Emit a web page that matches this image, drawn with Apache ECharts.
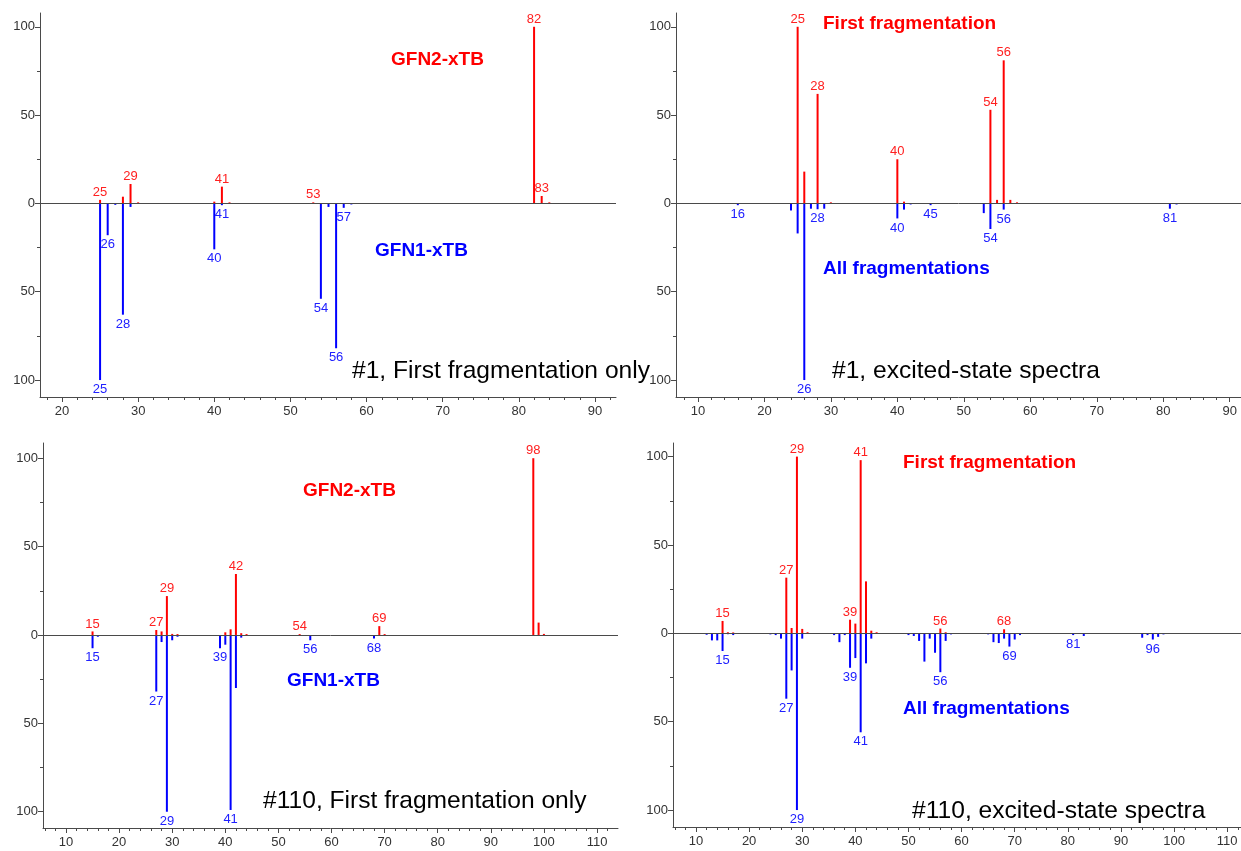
<!DOCTYPE html>
<html><head><meta charset="utf-8">
<script src="https://cdn.jsdelivr.net/npm/echarts@6/dist/echarts.min.js"></script>
<style>html,body{margin:0;padding:0;background:#fff}#c{width:1241px;height:851px}</style>
</head><body><div id="c"></div>
<script>
// ---------- DATA ----------
// Panel 1: #1, First fragmentation only (red GFN2-xTB up, blue GFN1-xTB down)
const p1RedMz   = [25, 28, 29, 30, 40, 41, 42, 53, 82, 83, 84];
const p1RedInt  = [2, 3.8, 11, 0.6, 1, 9.5, 0.6, 0.6, 100, 4.2, 0.6];
const p1RedLab  = [25, 29, 41, 53, 82, 83];
const p1BlueMz  = [25, 26, 27, 28, 29, 40, 41, 54, 55, 56, 57, 58];
const p1BlueInt = [100, 18, 0.8, 63, 2, 26, 1, 54, 2, 82, 2.5, 0.6];
const p1BlueLab = [25, 26, 28, 40, 41, 54, 56, 57];

// Panel 2: #1, excited-state spectra (red First fragmentation, blue All fragmentations)
const p2RedMz   = [25, 26, 28, 30, 40, 41, 54, 55, 56, 57, 58];
const p2RedInt  = [100, 18, 62, 0.6, 25, 1, 53, 2, 81, 2, 0.6];
const p2RedLab  = [25, 28, 40, 54, 56];
const p2BlueMz  = [16, 24, 25, 26, 27, 28, 29, 40, 41, 42, 45, 53, 54, 56, 81, 82];
const p2BlueInt = [1, 4, 17, 100, 3, 3.3, 3, 8.5, 3.5, 0.6, 1, 5.5, 14.5, 3.5, 3, 0.6];
const p2BlueLab = [16, 26, 28, 40, 45, 54, 56, 81];

// Panel 3: #110, First fragmentation only
const p3RedMz   = [15, 27, 28, 29, 30, 31, 40, 41, 42, 43, 44, 54, 69, 70, 98, 99, 100];
const p3RedInt  = [2, 2.8, 2, 22, 0.6, 0.5, 1.5, 3.2, 34.5, 1, 0.5, 0.5, 5, 0.5, 100, 7, 0.6];
const p3RedLab  = [15, 27, 29, 42, 54, 69, 98];
const p3BlueMz  = [15, 16, 26, 27, 28, 29, 30, 31, 39, 40, 41, 42, 43, 44, 56, 57, 68];
const p3BlueInt = [7.5, 1, 0.6, 32, 4, 100, 3, 1, 7.5, 5.5, 99, 30, 1.5, 0.6, 3, 0.6, 2];
const p3BlueLab = [15, 27, 29, 39, 41, 56, 68];

// Panel 4: #110, excited-state spectra
const p4RedMz   = [15, 16, 17, 27, 28, 29, 30, 31, 39, 40, 41, 42, 43, 44, 56, 57, 68];
const p4RedInt  = [7, 0.6, 0.5, 31.5, 3, 100, 2.5, 0.6, 7.7, 5.5, 98, 29.4, 1.5, 0.6, 2.7, 0.6, 2.3];
const p4RedLab  = [15, 27, 29, 39, 41, 56, 68];
const p4BlueMz  = [12, 13, 14, 15, 16, 17, 24, 25, 26, 27, 28, 29, 30, 36, 37, 38, 39, 40, 41, 42, 43,
                   50, 51, 52, 53, 54, 55, 56, 57, 58, 65, 66, 67, 68, 69, 70, 71, 81, 83, 94, 95, 96, 97, 98];
const p4BlueInt = [0.8, 4, 4, 10, 0.5, 1, 0.6, 1, 3, 37, 21, 100, 3, 1, 5, 1, 19.5, 14, 56, 17, 3,
                   1, 1.5, 4.3, 16, 3, 11, 22, 4.3, 0.6, 0.6, 5, 5.5, 3, 7.5, 3.5, 1, 1, 1.5, 2.5, 1, 3.5, 2, 0.6];
const p4BlueLab = [15, 27, 29, 39, 41, 56, 69, 81, 96];

// Tick labels
const xTicksA = [20, 30, 40, 50, 60, 70, 80, 90];
const xTicksB = [10, 20, 30, 40, 50, 60, 70, 80, 90];
const xTicksC = [10, 20, 30, 40, 50, 60, 70, 80, 90, 100, 110];
const yTicks  = [-100, -50, 0, 50, 100];
const yMinor  = [-75, -25, 25, 75];

// ---------- BUILD ----------
const FONT = 'Liberation Sans, Arial, sans-serif';
const RED = '#ff0000', BLUE = '#0000ff';
const AXC = '#4a4a4a';

const panels = [
  {grid:{left:40, top:13, width:576, height:384}, x:[17.11, 92.76], y:[-109.6, 107.8], xt:xTicksA,
   red:[p1RedMz,p1RedInt,p1RedLab], blue:[p1BlueMz,p1BlueInt,p1BlueLab]},
  {grid:{left:676, top:13, width:565, height:384}, x:[6.7, 91.7], y:[-109.6, 107.8], xt:xTicksB,
   red:[p2RedMz,p2RedInt,p2RedLab], blue:[p2BlueMz,p2BlueInt,p2BlueLab]},
  {grid:{left:43, top:443, width:575, height:385}, x:[5.67, 113.95], y:[-109.2, 108.6], xt:xTicksC,
   red:[p3RedMz,p3RedInt,p3RedLab], blue:[p3BlueMz,p3BlueInt,p3BlueLab]},
  {grid:{left:673, top:443, width:568, height:384}, x:[5.67, 112.6], y:[-109.6, 107.7], xt:xTicksC,
   red:[p4RedMz,p4RedInt,p4RedLab], blue:[p4BlueMz,p4BlueInt,p4BlueLab]}
];

const grid = [], xAxis = [], yAxis = [], series = [];
panels.forEach((p, i) => {
  grid.push(Object.assign({containLabel:false}, p.grid));
  const minorX = [];
  for (let v = Math.ceil(p.x[0] / 2) * 2; v <= p.x[1]; v += 2) if (v % 10 !== 0) minorX.push(v);
  // main x axis
  xAxis.push({type:'value', gridIndex:i, min:p.x[0], max:p.x[1], position:'bottom',
    axisLine:{show:true, onZero:false, lineStyle:{color:AXC, width:1}},
    axisTick:{show:true, length:5, customValues:p.xt, lineStyle:{color:AXC}},
    axisLabel:{show:true, customValues:p.xt, color:'#333', fontSize:13, fontFamily:FONT, margin:8},
    splitLine:{show:false}});
  // minor x ticks (placed onto bottom edge)
  xAxis.push({type:'value', gridIndex:i, min:p.x[0], max:p.x[1], position:'top', offset:-p.grid.height,
    axisLine:{show:false, onZero:false},
    axisTick:{show:true, inside:true, length:3, customValues:minorX, lineStyle:{color:AXC}},
    axisLabel:{show:false}, splitLine:{show:false}});
  // main y axis
  yAxis.push({type:'value', gridIndex:i, min:p.y[0], max:p.y[1], position:'left',
    axisLine:{show:true, onZero:false, lineStyle:{color:AXC, width:1}},
    axisTick:{show:true, length:5, customValues:yTicks, lineStyle:{color:AXC}},
    axisLabel:{show:true, customValues:yTicks, color:'#333', fontSize:13, fontFamily:FONT, margin:5,
      formatter: v => String(Math.abs(v))},
    splitLine:{show:false}});
  // minor y ticks (placed onto left edge)
  yAxis.push({type:'value', gridIndex:i, min:p.y[0], max:p.y[1], position:'right', offset:-p.grid.width,
    axisLine:{show:false, onZero:false},
    axisTick:{show:true, inside:true, length:3, customValues:yMinor, lineStyle:{color:AXC}},
    axisLabel:{show:false}, splitLine:{show:false}});

  const mk = (arr, sign) => arr[0].map((m, k) => ({
    value:[m, sign * arr[1][k]],
    label:{show: arr[2].includes(m)}
  }));
  series.push({type:'bar', xAxisIndex:2*i, yAxisIndex:2*i, barWidth:2, barGap:'-100%',
    itemStyle:{color:RED}, data:mk(p.red, 1),
    label:{position:'top', distance:1, color:'#ff2020', fontSize:13, fontFamily:FONT,
      formatter: q => String(q.value[0])},
    markLine:{silent:true, symbol:'none', label:{show:false},
      lineStyle:{color:AXC, width:1, type:'solid'}, data:[{yAxis:0}]},
    z:3});
  series.push({type:'bar', xAxisIndex:2*i, yAxisIndex:2*i, barWidth:2, barGap:'-100%',
    itemStyle:{color:BLUE}, data:mk(p.blue, -1),
    label:{position:'bottom', distance:3, color:'#2020ff', fontSize:13, fontFamily:FONT,
      formatter: q => String(q.value[0])},
    z:3});
});

// Annotations
const notes = [
  ['GFN2-xTB', 391, 60, RED, 19, 'bold'],
  ['GFN1-xTB', 375, 251, BLUE, 19, 'bold'],
  ['#1, First fragmentation only', 352, 371, '#000', 24.6, 'normal'],
  ['First fragmentation', 823, 24, RED, 19, 'bold'],
  ['All fragmentations', 823, 269, BLUE, 19, 'bold'],
  ['#1, excited-state spectra', 832, 371, '#000', 24.6, 'normal'],
  ['GFN2-xTB', 303, 491, RED, 19, 'bold'],
  ['GFN1-xTB', 287, 681, BLUE, 19, 'bold'],
  ['#110, First fragmentation only', 263, 801, '#000', 24.6, 'normal'],
  ['First fragmentation', 903, 463, RED, 19, 'bold'],
  ['All fragmentations', 903, 709, BLUE, 19, 'bold'],
  ['#110, excited-state spectra', 912, 811, '#000', 24.6, 'normal']
];
const graphic = notes.map(n => ({type:'text', x:n[1], y:n[2], z:10,
  style:{text:n[0], fill:n[3], fontSize:n[4], fontWeight:n[5], fontFamily:FONT, verticalAlign:'middle', align:'left'}}));

const chart = echarts.init(document.getElementById('c'), null, {renderer:'canvas'});
chart.setOption({animation:false, backgroundColor:'#fff', grid, xAxis, yAxis, series, graphic});
</script></body></html>
